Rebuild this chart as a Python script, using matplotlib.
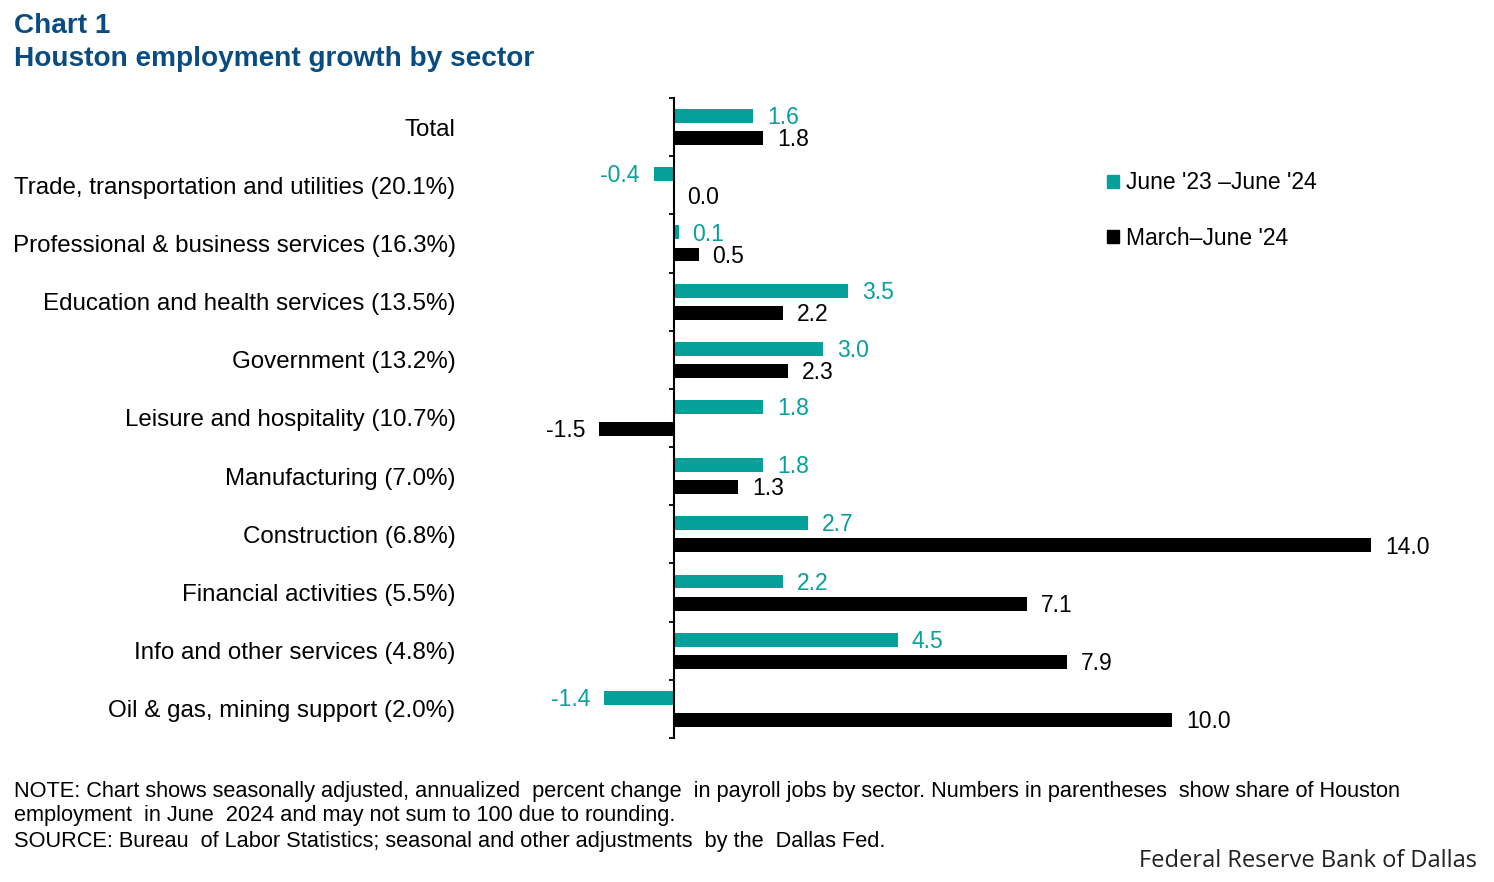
import numpy as np
import matplotlib.pyplot as plt
from matplotlib.patches import Patch
from matplotlib.ticker import FixedLocator

plt.rcParams["font.family"] = ["Liberation Sans", "DejaVu Sans"]

# data
sectors = [
    "Total",
    "Trade, transportation and utilities (20.1%)",
    "Professional & business services (16.3%)",
    "Education and health services (13.5%)",
    "Government (13.2%)",
    "Leisure and hospitality (10.7%)",
    "Manufacturing (7.0%)",
    "Construction (6.8%)",
    "Financial activities (5.5%)",
    "Info and other services (4.8%)",
    "Oil & gas, mining support (2.0%)",
]
yoy_change = [1.6, -0.4, 0.1, 3.5, 3.0, 1.8, 1.8, 2.7, 2.2, 4.5, -1.4]
mar_jun_change = [1.8, 0.0, 0.5, 2.2, 2.3, -1.5, 1.3, 14.0, 7.1, 7.9, 10.0]
series_labels = ["June '23 \u2013June '24", "March\u2013June '24"]

teal = "#06A09B"
black = "#000000"
navy = "#0B4C80"
fs = 16.5

W, H = 1494, 882
fig = plt.figure(figsize=(W / 100, H / 100), dpi=100)
# axes in pixel coordinates
left, right, top, bottom = 574, 1471, 98, 738
ax = fig.add_axes([left / W, 1 - bottom / H, (right - left) / W, (bottom - top) / H])

y = np.arange(len(sectors))
off = 0.19
bh = 0.24
ax.barh(y - off, yoy_change, height=bh, color=teal)
ax.barh(y + off, mar_jun_change, height=bh, color=black)

# value labels
for yi, v in zip(y - off, yoy_change):
    ax.annotate(f"{v:.1f}", (v, yi), xytext=(10 if v >= 0 else -10, -1.2),
                textcoords="offset points", va="center",
                ha="left" if v >= 0 else "right", fontsize=fs, color=teal)
for yi, v in zip(y + off, mar_jun_change):
    ax.annotate(f"{v:.1f}", (v, yi), xytext=(10 if v >= 0 else -10, -1.2),
                textcoords="offset points", va="center",
                ha="left" if v >= 0 else "right", fontsize=fs, color=black)

ax.set_xlim(-2, 16)
ax.set_ylim(len(sectors) - 0.5, -0.5)
ax.set_yticks(y)
ax.set_yticklabels(sectors)
ax.yaxis.set_minor_locator(FixedLocator(np.arange(-0.5, len(sectors), 1)))
ax.tick_params(axis="y", which="major", length=0, pad=157, labelsize=17.4)
ax.tick_params(axis="y", which="minor", length=3.5, width=1.3, direction="out")
ax.set_xticks([])
for s in ["top", "right", "bottom"]:
    ax.spines[s].set_visible(False)
ax.spines["left"].set_position(("data", 0))
ax.spines["left"].set_linewidth(1.5)

handles = [Patch(color=teal), Patch(color=black)]
fig.legend(handles, series_labels, loc="upper left",
           bbox_to_anchor=(1096 / W, 1 - 160 / H), frameon=False, fontsize=fs,
           handlelength=0.5, handleheight=0.5, handletextpad=0.3,
           labelspacing=1.42, borderpad=0)

# titles
fig.text(14 / W, 1 - 13 / H, "Chart 1", fontsize=20.2, fontweight="bold",
         color=navy, va="top", ha="left")
fig.text(14 / W, 1 - 46 / H, "Houston employment growth by sector", fontsize=20.2,
         fontweight="bold", color=navy, va="top", ha="left")

notes = [
    "NOTE: Chart shows seasonally adjusted, annualized  percent change  in payroll jobs by sector. Numbers in parentheses  show share of Houston",
    "employment  in June  2024 and may not sum to 100 due to rounding.",
    "SOURCE: Bureau  of Labor Statistics; seasonal and other adjustments  by the  Dallas Fed.",
]
for i, line in enumerate(notes):
    fig.text(14 / W, 1 - (791 + 25 * i) / H, line, fontsize=15.65, va="center", ha="left")

fig.text(1477 / W, 1 - 861 / H, "Federal Reserve Bank of Dallas", fontsize=17,
         family=["Open Sans", "DejaVu Sans"], va="center", ha="right", color="#222222")

fig.savefig("out.png", dpi=100)
